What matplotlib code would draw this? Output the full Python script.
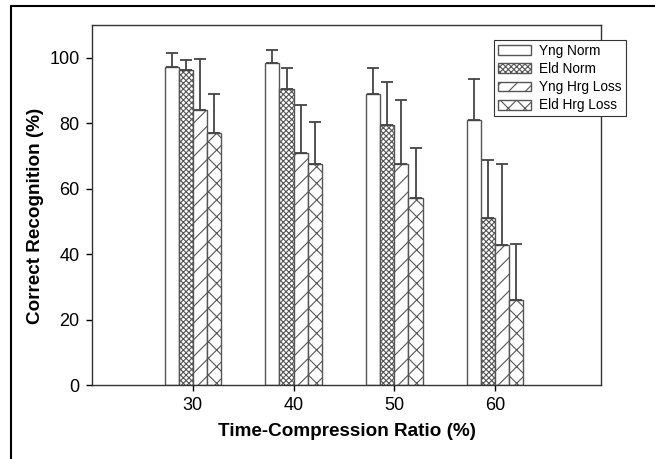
import matplotlib.pyplot as plt
import numpy as np
from matplotlib.patches import Rectangle

plt.rcParams['font.family'] = ['Liberation Sans', 'DejaVu Sans']
plt.rcParams['hatch.linewidth'] = 0.8

# Data
ratios = [30, 40, 50, 60]
groups = ['Yng Norm', 'Eld Norm', 'Yng Hrg Loss', 'Eld Hrg Loss']
yng_norm = [97.3, 98.5, 89.0, 81.0]
eld_norm = [96.3, 90.5, 79.5, 51.0]
yng_hrg = [84.0, 71.0, 67.5, 42.7]
eld_hrg = [77.0, 67.5, 57.0, 26.0]
yng_norm_err = [4.1, 4.0, 8.0, 12.5]
eld_norm_err = [3.0, 6.5, 13.0, 17.8]
yng_hrg_err = [15.5, 14.5, 19.5, 24.8]
eld_hrg_err = [12.0, 13.0, 15.4, 17.2]

values = [yng_norm, eld_norm, yng_hrg, eld_hrg]
errors = [yng_norm_err, eld_norm_err, yng_hrg_err, eld_hrg_err]
hatches = ['', 'xxxxxx', '//', 'xx']

fig = plt.figure(figsize=(6.55, 4.59), dpi=100)
ax = fig.add_axes([92/655, 1 - 385/459, 509/655, 360/459])

# outer frame (left/top visible, rest cropped)
fig.patches.append(Rectangle((11/655, -0.05), 1.2, 1 - 6/459 + 0.05,
                             transform=fig.transFigure, fill=False,
                             edgecolor='black', linewidth=1.5))

width = 1.4
x = np.array(ratios, dtype=float)
for i, (vals, errs, h) in enumerate(zip(values, errors, hatches)):
    pos = x + (i - 1.5) * width
    ax.bar(pos, vals, width=width, facecolor='white', edgecolor='#555555',
           hatch=h, linewidth=1.0, label=groups[i],
           yerr=[np.zeros(len(errs)), errs],
           error_kw=dict(ecolor='#444444', elinewidth=1.3, capsize=4, capthick=1.3))

ax.set_xlim(20, 70.5)
ax.set_ylim(0, 110)
ax.set_xticks(ratios)
ax.set_yticks([0, 20, 40, 60, 80, 100])
ax.tick_params(direction='out', length=4, labelsize=13, width=1, pad=5)
ax.set_xlabel('Time-Compression Ratio (%)', fontsize=13.6, fontweight='bold', labelpad=6)
ax.set_ylabel('Correct Recognition (%)', fontsize=13.6, fontweight='bold')
ax.yaxis.set_label_coords(-0.094, 0.47)
for s in ax.spines.values():
    s.set_linewidth(1.0)
    s.set_color('#333333')

leg = ax.legend(loc='upper left', bbox_to_anchor=(494/655, 1 - 40/459),
                bbox_transform=fig.transFigure, fontsize=9.8, frameon=True,
                fancybox=False, edgecolor='#333333', framealpha=1,
                handlelength=2.4, handleheight=0.75, labelspacing=0.3,
                borderpad=0.3, handletextpad=0.6, borderaxespad=0)
leg.get_frame().set_linewidth(0.8)

fig.savefig('out.png', dpi=100)
